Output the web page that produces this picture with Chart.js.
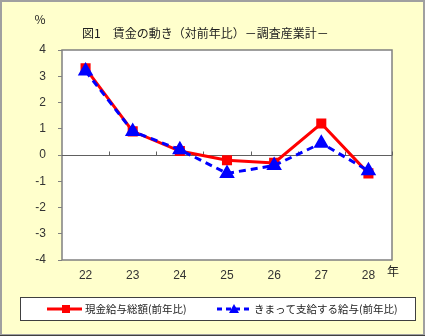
<!DOCTYPE html>
<html>
<head>
<meta charset="utf-8">
<script src="https://cdn.jsdelivr.net/npm/chart.js@4/dist/chart.umd.min.js"></script>
<style>
  html, body { margin: 0; padding: 0; background: #fff; }
  #wrap { width: 425px; height: 336px; }
</style>
</head>
<body>
<div id="wrap"><canvas id="myChart" width="425" height="336"></canvas></div>
<script>
// données du graphique
const years = ['22', '23', '24', '25', '26', '27', '28'];
const totalPay = [3.3, 0.9, 0.15, -0.2, -0.3, 1.2, -0.7];
const regularPay = [3.2, 0.9, 0.2, -0.7, -0.4, 0.45, -0.6];
const seriesLabels = ['現金給与総額(前年比)', 'きまって支給する給与(前年比)'];
const chartTitle = '図1　賃金の動き（対前年比）－調査産業計－';
const yTicks = [4, 3, 2, 1, 0, -1, -2, -3, -4];

const FONT = '"Noto Sans CJK JP", "Noto Sans", sans-serif';
const NUMFONT = '"Liberation Sans", Arial, sans-serif';

// fond, cadre, titre, axe zéro, légende
const decor = {
    id: 'decor',
    beforeDraw(chart) {
        const c = chart.ctx;
        const a = chart.chartArea;
        c.save();
        c.fillStyle = '#FFFFCC';
        c.fillRect(0, 0, chart.width, chart.height);
        c.strokeStyle = '#A0A0A0';
        c.lineWidth = 2;
        c.strokeRect(1, 1, chart.width - 2, chart.height - 2);
        c.strokeStyle = '#404040';
        c.lineWidth = 1;
        c.beginPath();
        c.moveTo(0, chart.height - 0.5);
        c.lineTo(chart.width, chart.height - 0.5);
        c.stroke();
        // zone de tracé
        c.fillStyle = '#FFFFFF';
        c.fillRect(a.left, a.top, a.right - a.left, a.bottom - a.top);
        c.restore();
    },
    beforeDatasetsDraw(chart) {
        const c = chart.ctx;
        const a = chart.chartArea;
        const y0 = Math.round(chart.scales.y.getPixelForValue(0)) + 0.5;
        c.save();
        c.strokeStyle = '#808080';
        c.lineWidth = 1.5;
        c.strokeRect(a.left, a.top, a.right - a.left, a.bottom - a.top);
        c.strokeStyle = '#606060';
        c.lineWidth = 1;
        c.beginPath();
        c.moveTo(a.left, y0);
        c.lineTo(a.right, y0);
        const step = (a.right - a.left) / years.length;
        for (let i = 1; i <= years.length; i++) {
            const px = Math.round(a.left + step * i) + 0.5;
            c.moveTo(px, y0);
            c.lineTo(px, y0 - 4);
        }
        c.stroke();
        c.restore();
    },
    afterDraw(chart) {
        const c = chart.ctx;
        c.save();
        c.fillStyle = '#222';
        c.font = '12px ' + FONT;
        c.textBaseline = 'middle';
        c.textAlign = 'left';
        c.fillText(chartTitle, 82, 33);
        c.textAlign = 'center';
        c.fillText('%', 40, 19);
        c.fillText('年', 393, 271);

        // légende
        c.fillStyle = '#FFFFFF';
        c.fillRect(20, 297, 395, 23);
        c.strokeStyle = '#404040';
        c.lineWidth = 1;
        c.strokeRect(20.5, 297.5, 395, 23);
        const ly = 309;
        // rouge
        c.strokeStyle = '#FF0000';
        c.lineWidth = 3;
        c.setLineDash([]);
        c.beginPath();
        c.moveTo(47, ly); c.lineTo(82, ly);
        c.stroke();
        c.fillStyle = '#FF0000';
        c.fillRect(62, ly - 4, 8, 8);
        // bleu
        c.strokeStyle = '#0000FF';
        c.setLineDash([5, 4]);
        c.beginPath();
        c.moveTo(217, ly); c.lineTo(250, ly);
        c.stroke();
        c.setLineDash([]);
        c.fillStyle = '#0000FF';
        c.beginPath();
        c.moveTo(234, ly - 5); c.lineTo(239, ly + 4); c.lineTo(229, ly + 4);
        c.closePath();
        c.fill();
        c.fillStyle = '#222';
        c.font = '10.5px ' + FONT;
        c.textAlign = 'left';
        c.fillText(seriesLabels[0], 85, ly);
        c.fillText(seriesLabels[1], 254, ly);
        c.restore();
    }
};

const ctx = document.getElementById('myChart').getContext('2d');
const myChart = new Chart(ctx, {
    type: 'line',
    data: {
        labels: years,
        datasets: [{
            label: seriesLabels[0],
            data: totalPay,
            borderColor: '#FF0000',
            backgroundColor: '#FF0000',
            borderWidth: 3,
            pointStyle: 'rect',
            pointRadius: 5,
            pointHoverRadius: 5,
            tension: 0,
            order: 2
        }, {
            label: seriesLabels[1],
            data: regularPay,
            borderColor: '#0000FF',
            backgroundColor: '#0000FF',
            borderWidth: 3,
            borderDash: [7, 5],
            pointStyle: 'triangle',
            pointRadius: 6,
            pointHoverRadius: 6,
            tension: 0,
            order: 1
        }]
    },
    options: {
        responsive: false,
        animation: false,
        layout: { padding: { left: 0, top: 50, right: 33, bottom: 52 } },
        plugins: {
            legend: { display: false },
            title: { display: false },
            tooltip: { enabled: false }
        },
        scales: {
            x: {
                offset: true,
                grid: { display: false, drawTicks: false },
                border: { display: false },
                ticks: { color: '#333', font: { family: NUMFONT, size: 12 }, padding: 8 },
                afterFit(scale) { scale.height = 24; }
            },
            y: {
                min: -4,
                max: 4,
                afterBuildTicks(scale) { scale.ticks = yTicks.map(v => ({ value: v })); },
                grid: { display: true, drawOnChartArea: false, drawTicks: true, tickLength: 4, color: '#808080' },
                border: { display: false },
                ticks: { color: '#333', font: { family: NUMFONT, size: 12 }, padding: 12 },
                afterFit(scale) { scale.width = 62; }
            }
        }
    },
    plugins: [decor]
});
</script>
</body>
</html>
